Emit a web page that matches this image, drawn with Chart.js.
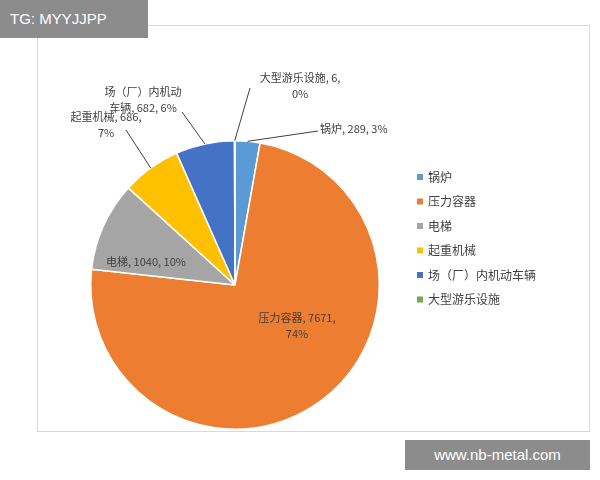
<!DOCTYPE html>
<html><head><meta charset="utf-8">
<script src="https://cdn.jsdelivr.net/npm/chart.js@4/dist/chart.umd.min.js"></script>
<style>html,body{margin:0;padding:0;background:#fff}#w{position:relative;width:600px;height:480px}
#frame{position:absolute;left:37px;top:25px;width:553px;height:407px;border:1px solid #d9d9d9;box-sizing:border-box}
#tg{position:absolute;left:0;top:0;width:148px;height:38px;background:#8c8c8c;color:#fff;font:15px "Liberation Sans",sans-serif;line-height:38px;padding-left:10px;box-sizing:border-box}
#wm{position:absolute;left:405px;top:440px;width:185px;height:30px;background:#8c8c8c;color:#fff;font:15px "Liberation Sans",sans-serif;line-height:30px;text-align:center}
canvas{position:absolute;left:0;top:0}</style></head>
<body><div id="w"><div id="frame"></div><canvas id="c" width="600" height="480"></canvas><div id="tg">TG: MYYJJPP</div><div id="wm">www.nb-metal.com</div></div>
<script>
const categories=["锅炉","压力容器","电梯","起重机械","场（厂）内机动车辆","大型游乐设施"];
const values=[289,7671,1040,686,682,6];
const percents=["3%","74%","10%","7%","6%","0%"];
const colors=["#5B9BD5","#ED7D31","#A5A5A5","#FFC000","#4472C4","#70AD47"];
// label layout: lines, x,y (first line), align, leader end (null = none)
const labelLayout=[
 {lines:[categories[0]+", "+values[0]+", "+percents[0]],x:320,y:129,align:"left",lead:[318,131]},
 {lines:[categories[1]+", "+values[1]+",",percents[1]],x:297,y:318,align:"center",lead:null},
 {lines:[categories[2]+", "+values[2]+", "+percents[2]],x:146,y:262,align:"center",lead:null},
 {lines:["起重机械, "+values[3]+",",percents[3]],x:106,y:117,align:"center",lead:[126,130]},
 {lines:["场（厂）内机动","车辆, "+values[4]+", "+percents[4]],x:143,y:92,align:"center",lead:[182,112]},
 {lines:["大型游乐设施, "+values[5]+",",percents[5]],x:300,y:78,align:"center",lead:[250,88]}
];
const plug={id:"lbl",afterDraw(ch){
 const ctx=ch.ctx;const arcs=ch.getDatasetMeta(0).data;
 ctx.save();ctx.font='11px "Noto Sans CJK SC",sans-serif';ctx.fillStyle="#404040";ctx.textBaseline="middle";
 labelLayout.forEach((L,i)=>{
  const a=arcs[i];
  if(L.lead){const m=(a.startAngle+a.endAngle)/2;const r=a.outerRadius;
   ctx.strokeStyle="#404040";ctx.lineWidth=1;ctx.beginPath();ctx.moveTo(a.x+Math.cos(m)*r,a.y+Math.sin(m)*r);ctx.lineTo(L.lead[0],L.lead[1]);ctx.stroke();}
  ctx.textAlign=L.align;L.lines.forEach((t,k)=>ctx.fillText(t,L.x,L.y+k*16));
 });
 ctx.font='12px "Noto Sans CJK SC",sans-serif';ctx.textAlign="left";
 categories.forEach((c,i)=>{const y=177+i*24.5;ctx.fillStyle=colors[i];ctx.fillRect(417,y-3,6,6);ctx.fillStyle="#404040";ctx.fillText(c,428,y);});
 ctx.restore();}};
new Chart(document.getElementById("c"),{type:"pie",
 data:{labels:categories,datasets:[{data:values,backgroundColor:colors,borderColor:"#fff",borderWidth:1.5}]},
 options:{responsive:false,animation:false,layout:{padding:{left:90,right:220,top:140,bottom:50}},
  plugins:{legend:{display:false},tooltip:{enabled:false}}},plugins:[plug]});
</script></body></html>
